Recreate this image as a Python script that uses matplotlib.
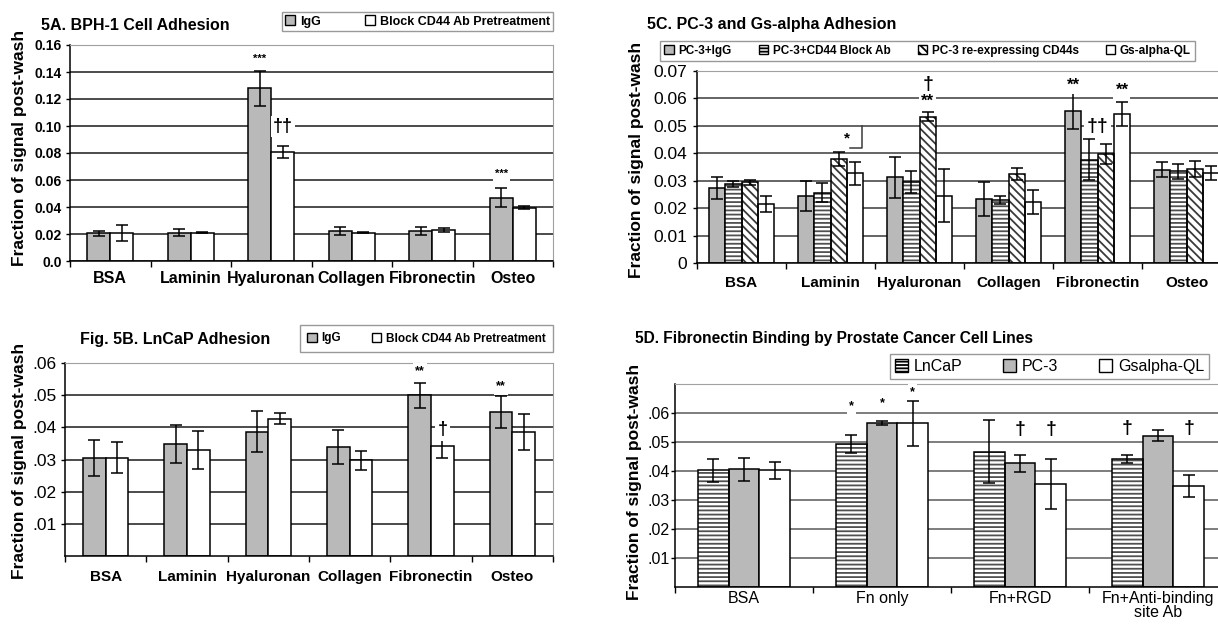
import numpy as np
import matplotlib
matplotlib.use('Agg')
import matplotlib.pyplot as plt
from matplotlib.patches import Patch

plt.rcParams['font.family'] = ['Liberation Sans', 'DejaVu Sans']
plt.rcParams['hatch.linewidth'] = 1.3

# ---- data ----
# 5A BPH-1
a_cats = ['BSA', 'Laminin', 'Hyaluronan', 'Collagen', 'Fibronectin', 'Osteo']
a_igg = [0.0205, 0.021, 0.128, 0.022, 0.022, 0.047]
a_igg_err = [0.002, 0.0025, 0.013, 0.003, 0.003, 0.0068]
a_block = [0.021, 0.021, 0.081, 0.021, 0.023, 0.0395]
a_block_err = [0.006, 0.0005, 0.0045, 0.0005, 0.0015, 0.001]
a_yticks = [0, 0.02, 0.04, 0.06, 0.08, 0.10, 0.12, 0.14, 0.16]
a_ylabels = ['0.0', '0.02', '0.04', '0.06', '0.08', '0.10', '0.12', '0.14', '0.16']

# 5B LnCaP
b_cats = ['BSA', 'Laminin', 'Hyaluronan', 'Collagen', 'Fibronectin', 'Osteo']
b_igg = [0.0305, 0.0348, 0.0387, 0.0339, 0.0499, 0.0447]
b_igg_err = [0.0055, 0.006, 0.0065, 0.0052, 0.004, 0.005]
b_block = [0.0305, 0.033, 0.0427, 0.0297, 0.0343, 0.0386]
b_block_err = [0.0048, 0.0058, 0.0018, 0.003, 0.0037, 0.0057]
b_yticks = [0.01, 0.02, 0.03, 0.04, 0.05, 0.06]
b_ylabels = ['.01', '.02', '.03', '.04', '.05', '.06']

# 5C PC-3 and Gs-alpha
c_cats = ['BSA', 'Laminin', 'Hyaluronan', 'Collagen', 'Fibronectin', 'Osteo']
c_igg = [0.0275, 0.0245, 0.0313, 0.0234, 0.0554, 0.034]
c_igg_err = [0.004, 0.0055, 0.0075, 0.0063, 0.0065, 0.0027]
c_block = [0.0288, 0.0257, 0.0297, 0.023, 0.0376, 0.0334]
c_block_err = [0.001, 0.0035, 0.004, 0.0015, 0.0075, 0.0028]
c_cd44s = [0.0294, 0.0379, 0.0534, 0.0325, 0.0398, 0.0342]
c_cd44s_err = [0.001, 0.0026, 0.0015, 0.0023, 0.0037, 0.003]
c_gs = [0.0216, 0.0328, 0.0245, 0.0222, 0.0542, 0.0328]
c_gs_err = [0.003, 0.0042, 0.0097, 0.0045, 0.0044, 0.0026]
c_yticks = [0, 0.01, 0.02, 0.03, 0.04, 0.05, 0.06, 0.07]
c_ylabels = ['0', '0.01', '0.02', '0.03', '0.04', '0.05', '0.06', '0.07']

# 5D Fibronectin binding
d_cats = ['BSA', 'Fn only', 'Fn+RGD', 'Fn+Anti-binding\nsite Ab']
d_lncap = [0.0402, 0.0494, 0.0467, 0.0442]
d_lncap_err = [0.0039, 0.0031, 0.011, 0.0013]
d_pc3 = [0.0406, 0.0565, 0.0427, 0.0522]
d_pc3_err = [0.004, 0.0008, 0.0029, 0.0018]
d_gs = [0.0402, 0.0565, 0.0355, 0.0348]
d_gs_err = [0.0028, 0.0078, 0.0087, 0.0039]
d_yticks = [0.01, 0.02, 0.03, 0.04, 0.05, 0.06]
d_ylabels = ['.01', '.02', '.03', '.04', '.05', '.06']

# annotations: (text, group, bar, y, fontsize)
a_notes = [('***', 2, 0, 0.150, 8), ('††', 2, 1, 0.0995, 13), ('***', 5, 0, 0.0645, 8)]
b_notes = [('**', 4, 0, 0.0574, 9), ('†', 4, 1, 0.0392, 13), ('**', 5, 0, 0.0527, 9)]
c_notes = [('*', 1, 2.5, 0.0455, 11), ('†', 2, 2, 0.0649, 14), ('**', 2, 2, 0.0588, 12),
           ('**', 4, 0, 0.0649, 12), ('††', 4, 1.5, 0.0497, 14), ('**', 4, 3, 0.0631, 12)]
d_notes = [('*', 1, 0, 0.0623, 9), ('*', 1, 1, 0.0635, 9), ('*', 1, 2, 0.0672, 9),
           ('†', 2, 1, 0.0542, 14), ('†', 2, 2, 0.0542, 14),
           ('†', 3, 0, 0.0548, 14), ('†', 3, 2, 0.0548, 14)]

GRAY = '#b9b9b9'
styles = {
    'gray': dict(color=GRAY, hatch=None),
    'white': dict(color='white', hatch=None),
    'stripe': dict(color='white', hatch='----', hcol='#505050'),
    'diag': dict(color='white', hatch='\\\\\\\\', hcol='#3a3a3a'),
}

W, H = 1218, 624
fig = plt.figure(figsize=(W / 100, H / 100), dpi=100)


def px_axes(l, t, r, b):
    return fig.add_axes([l / W, 1 - b / H, (r - l) / W, (b - t) / H])


def px_box(l, t, r, b):
    return (l / W, 1 - b / H, (r - l) / W, (b - t) / H)


def draw_panel(ax, series, width, grid_col, notes, ticks, tlabels, ylim, cats,
               tick_fs, tick_weight, cat_fs, cat_weight, ypad, xpad):
    n = len(cats)
    k = len(series)
    centers = np.arange(n) + 0.5
    offs = (np.arange(k) - (k - 1) / 2) * width
    for j, (vals, errs, st) in enumerate(series):
        s = styles[st]
        x = centers + offs[j]
        if s['hatch']:
            ax.bar(x, vals, width, color=s['color'], edgecolor=s['hcol'],
                   hatch=s['hatch'], lw=0, zorder=2)
            ax.bar(x, vals, width, fill=False, edgecolor='black', lw=1.1, zorder=3)
        else:
            ax.bar(x, vals, width, color=s['color'], edgecolor='black', lw=1.1, zorder=2)
        ax.errorbar(x, vals, yerr=errs, fmt='none', ecolor='black',
                    elinewidth=1.1, capsize=4, capthick=1.1, zorder=4)
    for txt, g, bi, yv, fs in notes:
        xv = centers[g] + (bi - (k - 1) / 2) * width
        ax.text(xv, yv, txt, ha='center', va='center', fontsize=fs,
                fontweight='bold', zorder=5,
                bbox=dict(facecolor='white', edgecolor='none', pad=1.5))
    ax.set_xlim(0, n)
    ax.set_ylim(*ylim)
    ax.set_yticks(ticks)
    ax.set_yticklabels(tlabels, fontsize=tick_fs, fontweight=tick_weight)
    ax.set_xticks(centers)
    ax.set_xticklabels(cats, fontsize=cat_fs, fontweight=cat_weight, linespacing=0.9)
    ax.set_xticks(np.arange(n + 1), minor=True)
    ax.tick_params(axis='x', which='major', length=0, pad=xpad)
    ax.tick_params(axis='x', which='minor', length=4, direction='out', width=1)
    ax.tick_params(axis='y', length=3, width=1, pad=ypad)
    ax.yaxis.grid(True, color=grid_col, lw=1.1)
    ax.set_axisbelow(True)
    for sp in ['top', 'right']:
        ax.spines[sp].set_color('#a0a0a0')
    for sp in ['left', 'bottom']:
        ax.spines[sp].set_color('black')
        ax.spines[sp].set_linewidth(1.1)


def box_legend(ax, handles, box, ncol, prop, pad):
    ax.legend(handles=handles, loc='center', bbox_to_anchor=px_box(*box),
              bbox_transform=fig.transFigure, mode='expand', ncol=ncol, prop=prop,
              frameon=True, fancybox=False, edgecolor='#808080', handlelength=0.8,
              handleheight=0.8, handletextpad=0.4, columnspacing=1.0,
              borderpad=pad, borderaxespad=0)


# ---- 5A ----
axA = px_axes(70, 45, 553, 261)
draw_panel(axA, [(a_igg, a_igg_err, 'gray'), (a_block, a_block_err, 'white')],
           0.285, '#1a1a1a', a_notes, a_yticks, a_ylabels, (0, 0.16), a_cats,
           10, 'bold', 11.5, 'bold', 3, 7)
fig.text(41 / W, 1 - 26 / H, '5A. BPH-1 Cell Adhesion', fontsize=11.5,
         fontweight='bold', va='center')
fig.text(20 / W, 1 - 148 / H, 'Fraction of signal post-wash', rotation=90,
         fontsize=12.5, fontweight='bold', ha='center', va='center')
box_legend(axA, [Patch(facecolor=GRAY, edgecolor='black', label='IgG'),
                 Patch(facecolor='white', edgecolor='black', label='Block CD44 Ab Pretreatment')],
           (282, 13, 553, 30), 2, {'weight': 'bold', 'size': 9}, 0.25)

# ---- 5B ----
axB = px_axes(65, 363, 553, 556)
draw_panel(axB, [(b_igg, b_igg_err, 'gray'), (b_block, b_block_err, 'white')],
           0.28, '#1a1a1a', b_notes, b_yticks, b_ylabels, (0, 0.06), b_cats,
           12.5, 'normal', 11, 'bold', 3, 10)
fig.text(80 / W, 1 - 340 / H, 'Fig. 5B. LnCaP Adhesion', fontsize=11.5,
         fontweight='bold', va='center')
fig.text(20 / W, 1 - 461 / H, 'Fraction of signal post-wash', rotation=90,
         fontsize=12.5, fontweight='bold', ha='center', va='center')
box_legend(axB, [Patch(facecolor=GRAY, edgecolor='black', label='IgG'),
                 Patch(facecolor='white', edgecolor='black', label='Block CD44 Ab Pretreatment')],
           (300, 326, 553, 351), 2, {'weight': 'bold', 'size': 8.5}, 0.6)

# ---- 5C ----
axC = px_axes(697, 71, 1231, 263)
draw_panel(axC, [(c_igg, c_igg_err, 'gray'), (c_block, c_block_err, 'stripe'),
                 (c_cd44s, c_cd44s_err, 'diag'), (c_gs, c_gs_err, 'white')],
           0.183, '#3a3a3a', c_notes, c_yticks, c_ylabels, (0, 0.07), c_cats,
           12.5, 'normal', 11, 'bold', 4, 9)
axC.plot([1 + 0.5 + 0.183 * 1.2, 1 + 0.5 + 0.183 * 1.95, 1 + 0.5 + 0.183 * 1.95],
         [0.0419, 0.0419, 0.05], color='#3a3a3a', lw=1.1, zorder=5)
fig.text(647 / W, 1 - 24 / H, '5C. PC-3 and Gs-alpha Adhesion', fontsize=11.5,
         fontweight='bold', va='center')
fig.text(637 / W, 1 - 160 / H, 'Fraction of signal post-wash', rotation=90,
         fontsize=12.5, fontweight='bold', ha='center', va='center')
box_legend(axC, [Patch(facecolor=GRAY, edgecolor='black', label='PC-3+IgG'),
                 Patch(facecolor='white', edgecolor='black', hatch='-----', label='PC-3+CD44 Block Ab'),
                 Patch(facecolor='white', edgecolor='black', hatch='\\\\\\\\', label='PC-3 re-expressing CD44s'),
                 Patch(facecolor='white', edgecolor='black', label='Gs-alpha-QL')],
           (660, 41, 1195, 61), 4, {'weight': 'bold', 'size': 8.5}, 0.35)

# ---- 5D ----
axD = px_axes(675, 384, 1227, 587)
draw_panel(axD, [(d_lncap, d_lncap_err, 'stripe'), (d_pc3, d_pc3_err, 'gray'),
                 (d_gs, d_gs_err, 'white')],
           0.222, '#5a5a5a', d_notes, d_yticks, d_ylabels, (0, 0.07), d_cats,
           11.5, 'normal', 11.5, 'normal', 1, 3)
fig.text(635 / W, 1 - 339 / H, '5D. Fibronectin Binding by Prostate Cancer Cell Lines',
         fontsize=11.2, fontweight='bold', va='center')
fig.text(635 / W, 1 - 482 / H, 'Fraction of signal post-wash', rotation=90,
         fontsize=12.5, fontweight='bold', ha='center', va='center')
box_legend(axD, [Patch(facecolor='white', edgecolor='black', hatch='-----', label='LnCaP'),
                 Patch(facecolor=GRAY, edgecolor='black', label='PC-3'),
                 Patch(facecolor='white', edgecolor='black', label='Gsalpha-QL')],
           (890, 355, 1209, 378), 3, {'size': 11.5}, 0.3)

fig.savefig('out.png', dpi=100)
